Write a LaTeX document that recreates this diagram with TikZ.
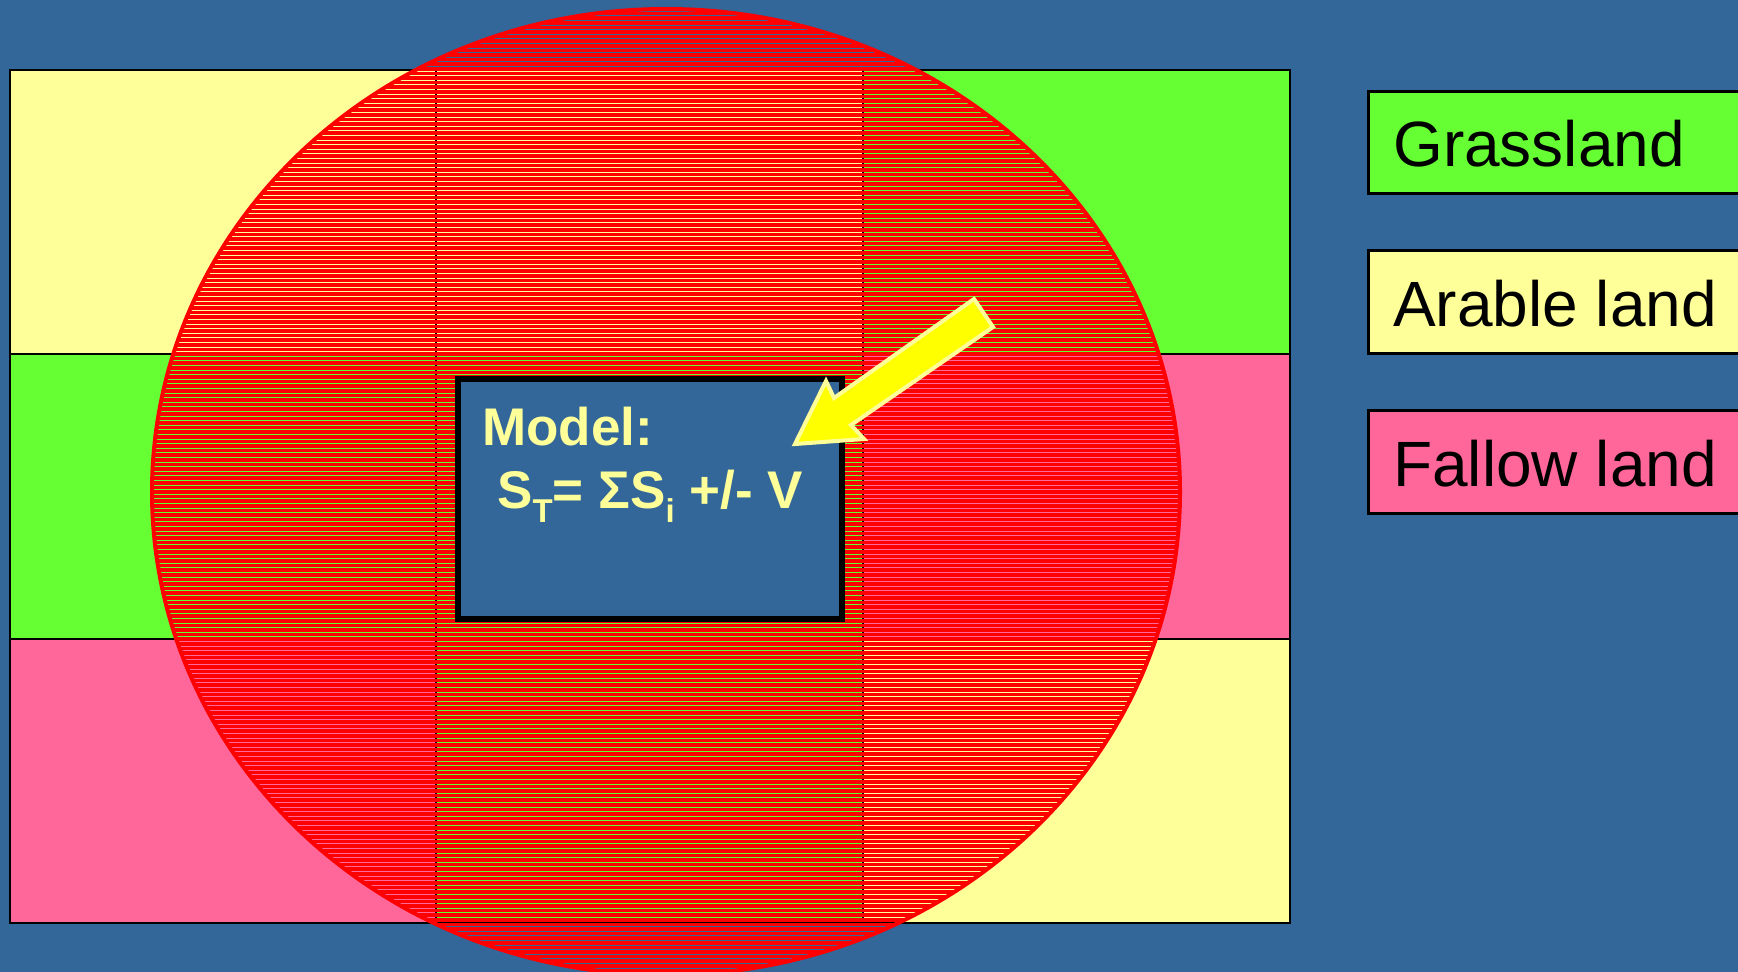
\documentclass[tikz,border=0pt]{standalone}
\usepackage{fontspec}
\setmainfont{Liberation Sans}
\definecolor{bg}{RGB}{51,102,153}
\definecolor{ylw}{RGB}{255,255,153}
\definecolor{grn}{RGB}{102,255,51}
\definecolor{pnk}{RGB}{255,102,153}
\definecolor{arrowfill}{RGB}{255,255,0}
\definecolor{hatch}{RGB}{255,0,0}
\newcommand{\subtext}[1]{\raisebox{-14pt}{\fontsize{33}{33}\selectfont #1}}
\begin{document}
\begin{tikzpicture}[x=1pt,y=-1pt,
  gridline/.style={draw=black,line width=2.5pt},
  stripe/.style={draw=hatch,line width=3.5pt},
  legendbox/.style={draw=black,line width=3pt},
  legendtext/.style={anchor=base west,inner sep=0pt,text=black,font=\fontsize{64}{70}\selectfont},
  modeltext/.style={anchor=base west,inner sep=0pt,text=ylw,font=\bfseries\fontsize{53}{60}\selectfont}]
\useasboundingbox (0,0) rectangle (1738,972);
\fill[bg] (0,0) rectangle (1738,972);
% cells
\fill[ylw] (10,70) rectangle (436,354);
\fill[ylw] (436,70) rectangle (863,354);
\fill[grn] (863,70) rectangle (1290,354);
\fill[grn] (10,354) rectangle (436,639);
\fill[grn] (436,354) rectangle (863,639);
\fill[pnk] (863,354) rectangle (1290,639);
\fill[pnk] (10,639) rectangle (436,923);
\fill[grn] (436,639) rectangle (863,923);
\fill[ylw] (863,639) rectangle (1290,923);
\draw[gridline] (10,70) rectangle (1290,923);
\draw[gridline] (436,70) -- (436,923);
\draw[gridline] (863,70) -- (863,923);
\draw[gridline] (10,354) -- (1290,354);
\draw[gridline] (10,639) -- (1290,639);
% hatched circle
\begin{scope}
\clip (666,492) ellipse [x radius=514, y radius=483];
\foreach \i in {0,...,213} \draw[stripe] (140,{9+\i*4.6}) -- (1190,{9+\i*4.6});
\end{scope}
\draw[draw=hatch,line width=4pt] (666,492) ellipse [x radius=514, y radius=483];
% model box
\draw[fill=bg,draw=black,line width=6pt] (458,379) rectangle (842,619);
\node[modeltext] (model) at (482,445) {Model:};
\node[modeltext] (formula) at (497,508) {S\subtext{T}= ΣS\subtext{i} +/- V};
% arrow
\draw[draw=ylw,fill=arrowfill,line width=4pt,line join=miter] (795,444) -- (826,381) -- (834,398) -- (974,299) -- (993,327) -- (851,425) -- (864,439) -- cycle;
% legend
\fill[grn] (1368,91) rectangle (1745,193);
\draw[legendbox] (1368,91) rectangle (1745,193);
\node[legendtext] (grass) at (1393,166) {Grassland};
\fill[ylw] (1368,250) rectangle (1745,353);
\draw[legendbox] (1368,250) rectangle (1745,353);
\node[legendtext] (arable) at (1393,326) {Arable land};
\fill[pnk] (1368,410) rectangle (1745,513);
\draw[legendbox] (1368,410) rectangle (1745,513);
\node[legendtext] (fallow) at (1393,486) {Fallow land};
\end{tikzpicture}
\end{document}
